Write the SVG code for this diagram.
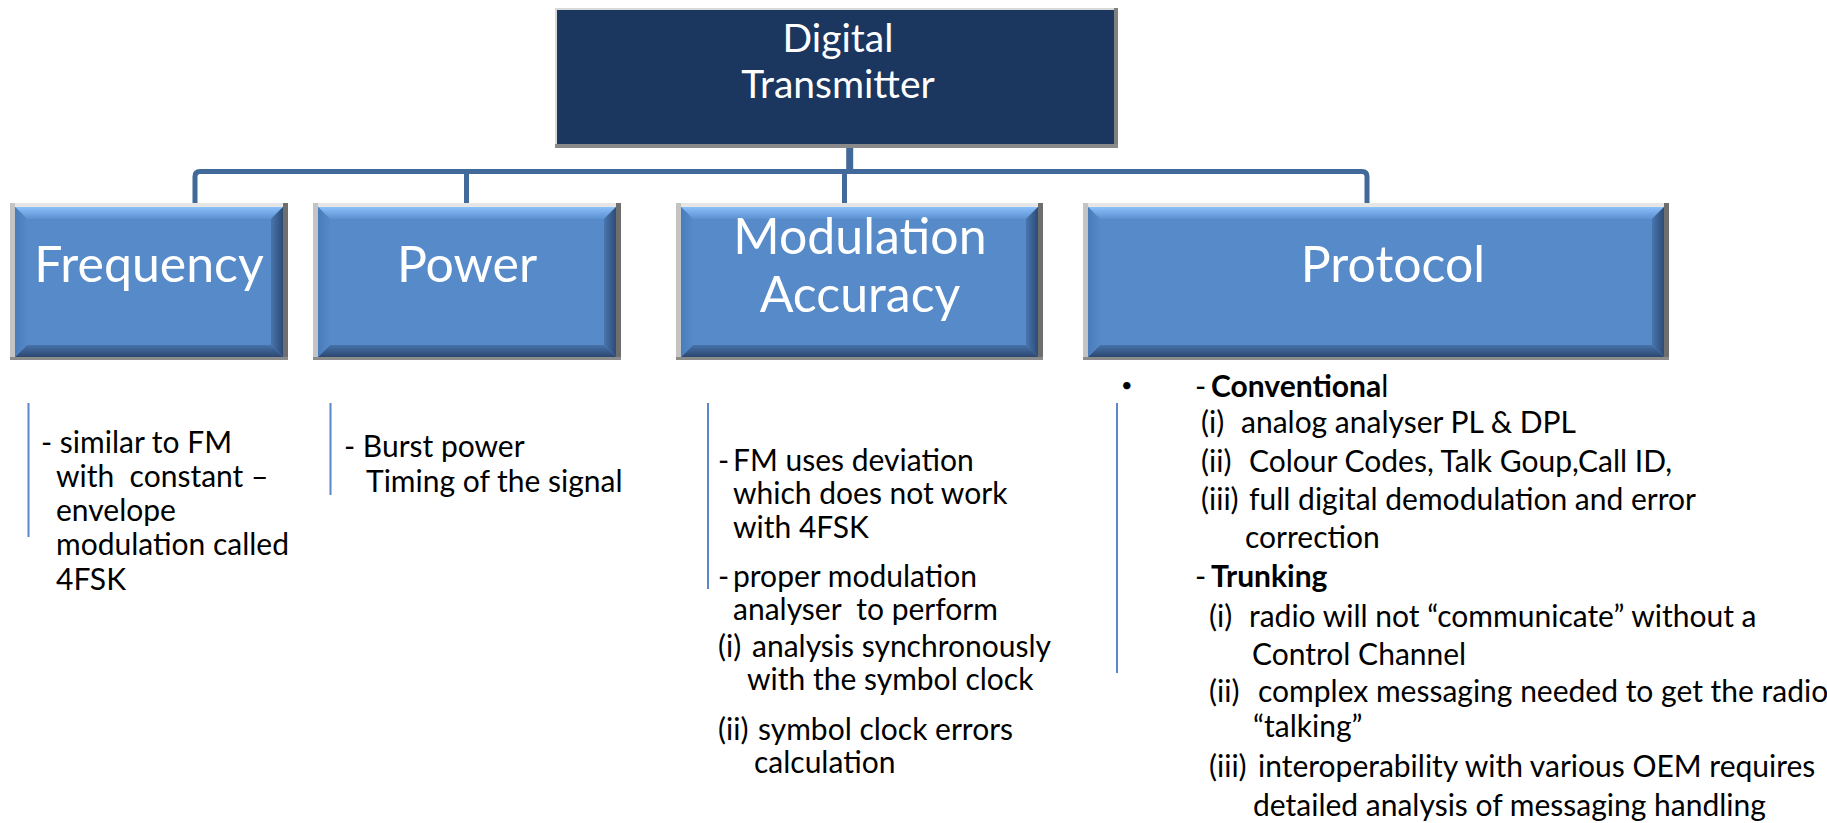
<svg xmlns="http://www.w3.org/2000/svg" width="1827" height="823" viewBox="0 0 1827 823">
<style>
.frame{fill:#E6E6E6}.fl{fill:#C4C4C4}.fr{fill:#6E6E6E}.fb{fill:#8C8C8C}
.fill{fill:#568AC9}
.bt{fill:url(#gTop)}.bb{fill:url(#gBot)}.bl{fill:url(#gLeft)}.br{fill:url(#gRight)}
.conn{fill:none;stroke:#416999;stroke-width:5}
.vl{stroke:#5B87C6;stroke-width:2}
.h{font-family:Lato,"Liberation Sans",sans-serif;fill:#FFFFFF;font-size:50px;text-anchor:middle}
.hd{font-family:Lato,"Liberation Sans",sans-serif;fill:#FFFFFF;font-size:39px;text-anchor:middle}
.t{font-family:Lato,"Liberation Sans",sans-serif;fill:#000000;font-size:30px}
.b{font-weight:bold}
</style>
<defs>
<linearGradient id="gTop" x1="0" y1="0" x2="0" y2="1"><stop offset="0" stop-color="#8EC2FA"/><stop offset="0.3" stop-color="#7CB0EE"/><stop offset="1" stop-color="#5C91D1"/></linearGradient>
<linearGradient id="gBot" x1="0" y1="0" x2="0" y2="1"><stop offset="0" stop-color="#4672AA"/><stop offset="1" stop-color="#2C4870"/></linearGradient>
<linearGradient id="gLeft" x1="0" y1="0" x2="1" y2="0"><stop offset="0" stop-color="#4A7CBB"/><stop offset="1" stop-color="#5589C8"/></linearGradient>
<linearGradient id="gRight" x1="0" y1="0" x2="1" y2="0"><stop offset="0" stop-color="#4876AE"/><stop offset="1" stop-color="#2D4B75"/></linearGradient>
</defs>
<rect width="1827" height="823" fill="#FFFFFF"/>

<g id="connectors">
<path class="conn" d="M195,203 V176.5 Q195,171.5 200,171.5 H1362 Q1367,171.5 1367,176.5 V203"/>
<line class="conn" x1="466.5" y1="171.5" x2="466.5" y2="203"/>
<line class="conn" x1="844.5" y1="171.5" x2="844.5" y2="203"/>
<line x1="849.7" y1="147" x2="849.7" y2="172" stroke="#416999" stroke-width="7"/>
</g>

<g id="digital-transmitter">
<rect x="555" y="8" width="563" height="140" fill="#D8D8D8"/>
<rect x="1114" y="8" width="4" height="140" fill="#7F7F7F"/>
<rect x="555" y="144" width="563" height="4" fill="#8A8A8A"/>
<rect x="557" y="10" width="557" height="134" fill="#1B375F"/>
<text class="hd" x="838" y="52">Digital</text>
<text class="hd" x="838" y="98">Transmitter</text>
</g>

<g id="frequency">
<rect class="frame" x="10" y="203" width="278" height="157"/>
<rect class="fl" x="10" y="203" width="5" height="157"/>
<rect class="fr" x="283" y="203" width="5" height="157"/>
<rect class="fb" x="10" y="357" width="278" height="3"/>
<rect class="fill" x="15" y="207" width="268" height="150"/>
<polygon class="bt" points="15,207 283,207 271,219 27,219"/>
<polygon class="bb" points="15,357 283,357 271,345 27,345"/>
<polygon class="bl" points="15,207 27,219 27,345 15,357"/>
<polygon class="br" points="271,219 283,207 283,357 271,345"/>
<text class="h" x="149" y="282">Frequency</text>
</g>

<g id="power">
<rect class="frame" x="313" y="203" width="308" height="157"/>
<rect class="fl" x="313" y="203" width="5" height="157"/>
<rect class="fr" x="616" y="203" width="5" height="157"/>
<rect class="fb" x="313" y="357" width="308" height="3"/>
<rect class="fill" x="318" y="207" width="298" height="150"/>
<polygon class="bt" points="318,207 616,207 604,219 330,219"/>
<polygon class="bb" points="318,357 616,357 604,345 330,345"/>
<polygon class="bl" points="318,207 330,219 330,345 318,357"/>
<polygon class="br" points="604,219 616,207 616,357 604,345"/>
<text class="h" x="467" y="282">Power</text>
</g>

<g id="modulation-accuracy">
<rect class="frame" x="676" y="203" width="367" height="157"/>
<rect class="fl" x="676" y="203" width="5" height="157"/>
<rect class="fr" x="1038" y="203" width="5" height="157"/>
<rect class="fb" x="676" y="357" width="367" height="3"/>
<rect class="fill" x="681" y="207" width="357" height="150"/>
<polygon class="bt" points="681,207 1038,207 1026,219 693,219"/>
<polygon class="bb" points="681,357 1038,357 1026,345 693,345"/>
<polygon class="bl" points="681,207 693,219 693,345 681,357"/>
<polygon class="br" points="1026,219 1038,207 1038,357 1026,345"/>
<text class="h" x="860" y="254">Modulation</text>
<text class="h" x="860" y="312">Accuracy</text>
</g>

<g id="protocol">
<rect class="frame" x="1083" y="203" width="586" height="157"/>
<rect class="fl" x="1083" y="203" width="5" height="157"/>
<rect class="fr" x="1664" y="203" width="5" height="157"/>
<rect class="fb" x="1083" y="357" width="586" height="3"/>
<rect class="fill" x="1088" y="207" width="576" height="150"/>
<polygon class="bt" points="1088,207 1664,207 1652,219 1100,219"/>
<polygon class="bb" points="1088,357 1664,357 1652,345 1100,345"/>
<polygon class="bl" points="1088,207 1100,219 1100,345 1088,357"/>
<polygon class="br" points="1652,219 1664,207 1664,357 1652,345"/>
<text class="h" x="1393" y="282">Protocol</text>
</g>

<g id="frequency-notes">
<line class="vl" x1="28.5" y1="403" x2="28.5" y2="537"/>
<text class="t" x="41" y="453">- similar to FM</text>
<text class="t" x="56" y="487" xml:space="preserve">with  constant –</text>
<text class="t" x="56" y="521">envelope</text>
<text class="t" x="56" y="555">modulation called</text>
<text class="t" x="56" y="590">4FSK</text>
</g>

<g id="power-notes">
<line class="vl" x1="330.5" y1="403" x2="330.5" y2="495"/>
<text class="t" x="344" y="457">- Burst power</text>
<text class="t" x="366" y="492">Timing of the signal</text>
</g>

<g id="modulation-notes">
<line class="vl" x1="708" y1="403" x2="708" y2="589"/>
<text class="t" x="718" y="471">-</text><text class="t" x="733" y="471">FM uses deviation</text>
<text class="t" x="733" y="504">which does not work</text>
<text class="t" x="733" y="538">with 4FSK</text>
<text class="t" x="718" y="587">-</text><text class="t" x="733" y="587">proper modulation</text>
<text class="t" x="733" y="620" xml:space="preserve">analyser  to perform</text>
<text class="t" x="718" y="657">(i)</text><text class="t" x="752" y="657">analysis synchronously</text>
<text class="t" x="747" y="690">with the symbol clock</text>
<text class="t" x="718" y="740">(ii)</text><text class="t" x="758" y="740">symbol clock errors</text>
<text class="t" x="754" y="773">calculation</text>
</g>

<g id="protocol-notes">
<line class="vl" x1="1117" y1="403" x2="1117" y2="673"/>
<text class="t" x="1121" y="392" style="font-size:20px">•</text>
<text class="t" x="1195" y="397">-</text><text class="t" x="1211" y="397"><tspan class="b">Conventiona</tspan>l</text>
<text class="t" x="1201" y="433">(i)</text><text class="t" x="1241" y="433">analog analyser PL &amp; DPL</text>
<text class="t" x="1201" y="472">(ii)</text><text class="t" x="1249" y="472">Colour Codes, Talk Goup,Call ID,</text>
<text class="t" x="1201" y="510">(iii)</text><text class="t" x="1249" y="510">full digital demodulation and error</text>
<text class="t" x="1245" y="548">correction</text>
<text class="t" x="1195" y="587">-</text><text class="t b" x="1211" y="587">Trunking</text>
<text class="t" x="1209" y="627">(i)</text><text class="t" x="1249" y="627">radio will not “communicate” without a</text>
<text class="t" x="1252" y="665">Control Channel</text>
<text class="t" x="1209" y="702">(ii)</text><text class="t" x="1258" y="702">complex messaging needed to get the radio</text>
<text class="t" x="1253" y="737">“talking”</text>
<text class="t" x="1209" y="777">(iii)</text><text class="t" x="1258" y="777">interoperability with various OEM requires</text>
<text class="t" x="1253" y="816">detailed analysis of messaging handling</text>
</g>
</svg>
